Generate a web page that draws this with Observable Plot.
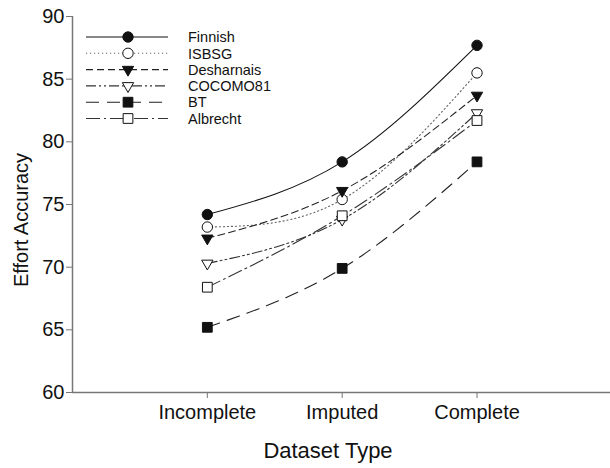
<!DOCTYPE html>
<html><head><meta charset="utf-8">
<script src="https://cdn.jsdelivr.net/npm/d3@7"></script>
<script src="https://cdn.jsdelivr.net/npm/@observablehq/plot@0.6"></script>
<style>
body{margin:0;background:#fff;}
#wrap{position:relative;width:610px;height:468px;font-family:"Liberation Sans",Arial,sans-serif;}
#wrap svg{position:absolute;left:0;top:0;}
</style>
</head><body><div id="wrap"></div>
<script>
const categories = ["Incomplete", "Imputed", "Complete"];
const seriesNames = ["Finnish", "ISBSG", "Desharnais", "COCOMO81", "BT", "Albrecht"];
const finnish    = [74.2, 78.4, 87.7];
const isbsg      = [73.2, 75.4, 85.5];
const desharnais = [72.3, 76.1, 83.7];
const cocomo81   = [70.3, 73.8, 82.3];
const bt         = [65.2, 69.9, 78.4];
const albrecht   = [68.4, 74.1, 81.7];
const yTicks = [60, 65, 70, 75, 80, 85, 90];
const xLabel = "Dataset Type";
const yLabel = "Effort Accuracy";

const seriesValues = [finnish, isbsg, desharnais, cocomo81, bt, albrecht];
// style per series
const styles = [
  {symbol: "circle",   fill: "#111", dash: null,               stroke: "#111"},
  {symbol: "circle",   fill: "#fff", dash: "1.2,2.8",          stroke: "#666"},
  {symbol: "triangle", fill: "#111", dash: "7,4",              stroke: "#222"},
  {symbol: "triangle", fill: "#fff", dash: "10,3,2,3,2,3",     stroke: "#333"},
  {symbol: "square",   fill: "#111", dash: "13,8",             stroke: "#222"},
  {symbol: "square",   fill: "#fff", dash: "14,4,2,4",         stroke: "#333"}
];
const radius = {circle: 5.2, triangle: 4.2, square: 5.5};

const rows = [];
seriesNames.forEach((s, i) => {
  categories.forEach((c, j) => rows.push({series: s, idx: i, x: j + 1, cat: c, y: seriesValues[i][j]}));
});

const marks = [];
seriesNames.forEach((s, i) => {
  const st = styles[i];
  marks.push(Plot.line(rows.filter(d => d.series === s), {
    x: "x", y: "y", curve: "natural", stroke: st.stroke, strokeWidth: 1.1,
    strokeDasharray: st.dash || undefined
  }));
});
seriesNames.forEach((s, i) => {
  const st = styles[i];
  marks.push(Plot.dot(rows.filter(d => d.series === s), {
    x: "x", y: "y", symbol: () => st.symbol,
    r: radius[st.symbol],
    rotate: st.symbol === "triangle" ? 180 : 0,
    fill: st.fill, stroke: "#111", strokeWidth: 1
  }));
});
marks.push(Plot.ruleX([0], {stroke: "#777", strokeWidth: 1.5}));
marks.push(Plot.ruleY([60], {stroke: "#777", strokeWidth: 1.5}));
marks.push(Plot.axisY({ticks: yTicks, tickSize: 6, tickPadding: 2, fontSize: 20, label: null, stroke: "#777"}));
marks.push(Plot.axisX({ticks: [1, 2, 3], tickFormat: d => categories[d - 1], tickSize: 6, tickPadding: 6, fontSize: 20, label: null, stroke: "#777"}));

const chart = Plot.plot({
  width: 610, height: 468,
  marginLeft: 72, marginRight: 0, marginTop: 16, marginBottom: 76,
  style: {fontFamily: "'Liberation Sans', Arial, sans-serif", color: "#111", background: "#fff", overflow: "visible"},
  x: {domain: [0, 3.99], axis: null},
  y: {domain: [60, 90], axis: null},
  symbol: {type: "identity"},
  marks
});
const wrap = document.getElementById("wrap");
wrap.appendChild(chart);

// axis titles and legend overlay
const svg = d3.select(wrap).append("svg").attr("width", 610).attr("height", 468)
  .style("font-family", "'Liberation Sans', Arial, sans-serif").style("pointer-events", "none");
svg.append("text").attr("x", 328).attr("y", 458).attr("text-anchor", "middle")
  .attr("font-size", 22).attr("fill", "#111").text(xLabel);
svg.append("text").attr("transform", "translate(28,220) rotate(-90)").attr("text-anchor", "middle")
  .attr("font-size", 20).attr("fill", "#111").text(yLabel);

const sym = {circle: d3.symbolCircle, triangle: d3.symbolTriangle, square: d3.symbolSquare};
seriesNames.forEach((s, i) => {
  const st = styles[i];
  const y = 37 + i * 16.3;
  const g = svg.append("g");
  g.append("line").attr("x1", 86).attr("x2", 168).attr("y1", y).attr("y2", y)
    .attr("stroke", st.stroke).attr("stroke-width", 1.1).attr("stroke-dasharray", st.dash);
  const r = radius[st.symbol];
  g.append("path").attr("d", d3.symbol(sym[st.symbol], Math.PI * r * r)())
    .attr("transform", `translate(128,${y})` + (st.symbol === "triangle" ? " rotate(180)" : ""))
    .attr("fill", st.fill).attr("stroke", "#111").attr("stroke-width", 1);
  g.append("text").attr("x", 188).attr("y", y).attr("dy", "0.36em")
    .attr("font-size", 14.5).attr("fill", "#111").text(s);
});
</script>
</body></html>
